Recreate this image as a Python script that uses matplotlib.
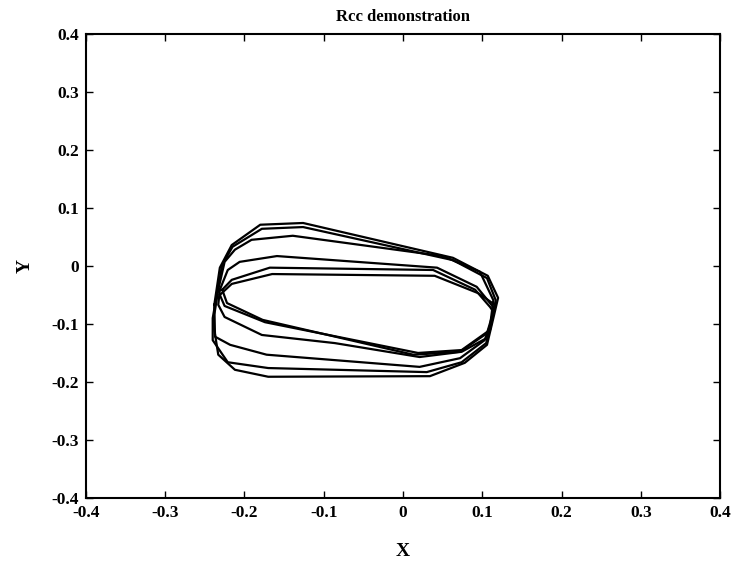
import numpy as np
import matplotlib
matplotlib.use("Agg")
import matplotlib.pyplot as plt

# loops of the trajectory, (x, y) vertices
loop1_x = [-0.238, -0.231, -0.216, -0.180, -0.126, 0.063, 0.107, 0.120, 0.114, 0.106, 0.078, 0.034, -0.170, -0.212, -0.233, -0.238]
loop1_y = [-0.067, -0.003, 0.036, 0.071, 0.074, 0.014, -0.017, -0.055, -0.090, -0.136, -0.167, -0.190, -0.191, -0.179, -0.153, -0.110]
loop2_x = [-0.236, -0.228, -0.215, -0.178, -0.126, 0.063, 0.106, 0.117, 0.112, 0.105, 0.074, 0.030, -0.170, -0.221, -0.240, -0.240]
loop2_y = [-0.059, 0.002, 0.033, 0.064, 0.067, 0.010, -0.021, -0.059, -0.093, -0.133, -0.166, -0.183, -0.176, -0.166, -0.128, -0.090]
loop3_x = [-0.233, -0.225, -0.212, -0.191, -0.139, 0.050, 0.097, 0.114, 0.110, 0.103, 0.072, 0.021, -0.172, -0.218, -0.237, -0.238]
loop3_y = [-0.041, 0.007, 0.028, 0.045, 0.052, 0.017, -0.010, -0.059, -0.102, -0.128, -0.159, -0.174, -0.153, -0.136, -0.122, -0.084]
loop4_x = [-0.231, -0.221, -0.206, -0.159, 0.043, 0.093, 0.114, 0.112, 0.106, 0.074, 0.021, -0.086, -0.178, -0.225, -0.233]
loop4_y = [-0.041, -0.007, 0.007, 0.017, -0.003, -0.036, -0.071, -0.093, -0.124, -0.148, -0.157, -0.133, -0.119, -0.088, -0.067]
loop5_x = [-0.228, -0.216, -0.168, 0.038, 0.091, 0.110, 0.114, 0.106, 0.072, 0.013, -0.177, -0.222]
loop5_y = [-0.041, -0.024, -0.003, -0.007, -0.041, -0.071, -0.079, -0.116, -0.148, -0.153, -0.093, -0.064]
loop6_x = [-0.231, -0.216, -0.165, 0.040, 0.095, 0.116, 0.110, 0.074, 0.019, -0.174, -0.225]
loop6_y = [-0.050, -0.031, -0.014, -0.017, -0.047, -0.067, -0.110, -0.145, -0.150, -0.097, -0.069]

loops = [(loop1_x, loop1_y), (loop2_x, loop2_y), (loop3_x, loop3_y),
         (loop4_x, loop4_y), (loop5_x, loop5_y), (loop6_x, loop6_y)]
ticks = [-0.4, -0.3, -0.2, -0.1, 0, 0.1, 0.2, 0.3, 0.4]
tick_labels = ["-0.4", "-0.3", "-0.2", "-0.1", "0", "0.1", "0.2", "0.3", "0.4"]

plt.rcParams["font.family"] = ["Liberation Serif", "DejaVu Serif"]
fig = plt.figure(figsize=(7.34, 5.64), dpi=100)
ax = fig.add_axes([0.117, 0.117, 0.864, 0.823])

for lx, ly in loops:
    x = np.append(lx, lx[0]); y = np.append(ly, ly[0])
    ax.plot(x, y, color="black", lw=1.6, solid_joinstyle="round")

ax.set_xlim(-0.4, 0.4); ax.set_ylim(-0.4, 0.4)
ax.set_xticks(ticks); ax.set_yticks(ticks)
ax.set_xticklabels(tick_labels, fontweight="bold", fontsize=12.5)
ax.set_yticklabels(tick_labels, fontweight="bold", fontsize=12.5)
ax.tick_params(direction="in", length=5, width=1, top=True, right=True, pad=5)
for s in ax.spines.values():
    s.set_linewidth(1.5)

ax.set_title("Rcc demonstration", fontsize=12, fontweight="bold", pad=9)
ax.set_xlabel("X", fontsize=14, fontweight="bold", labelpad=16)
ax.set_ylabel("Y", fontsize=14, fontweight="bold", labelpad=13)

fig.savefig("out.png", dpi=100)
